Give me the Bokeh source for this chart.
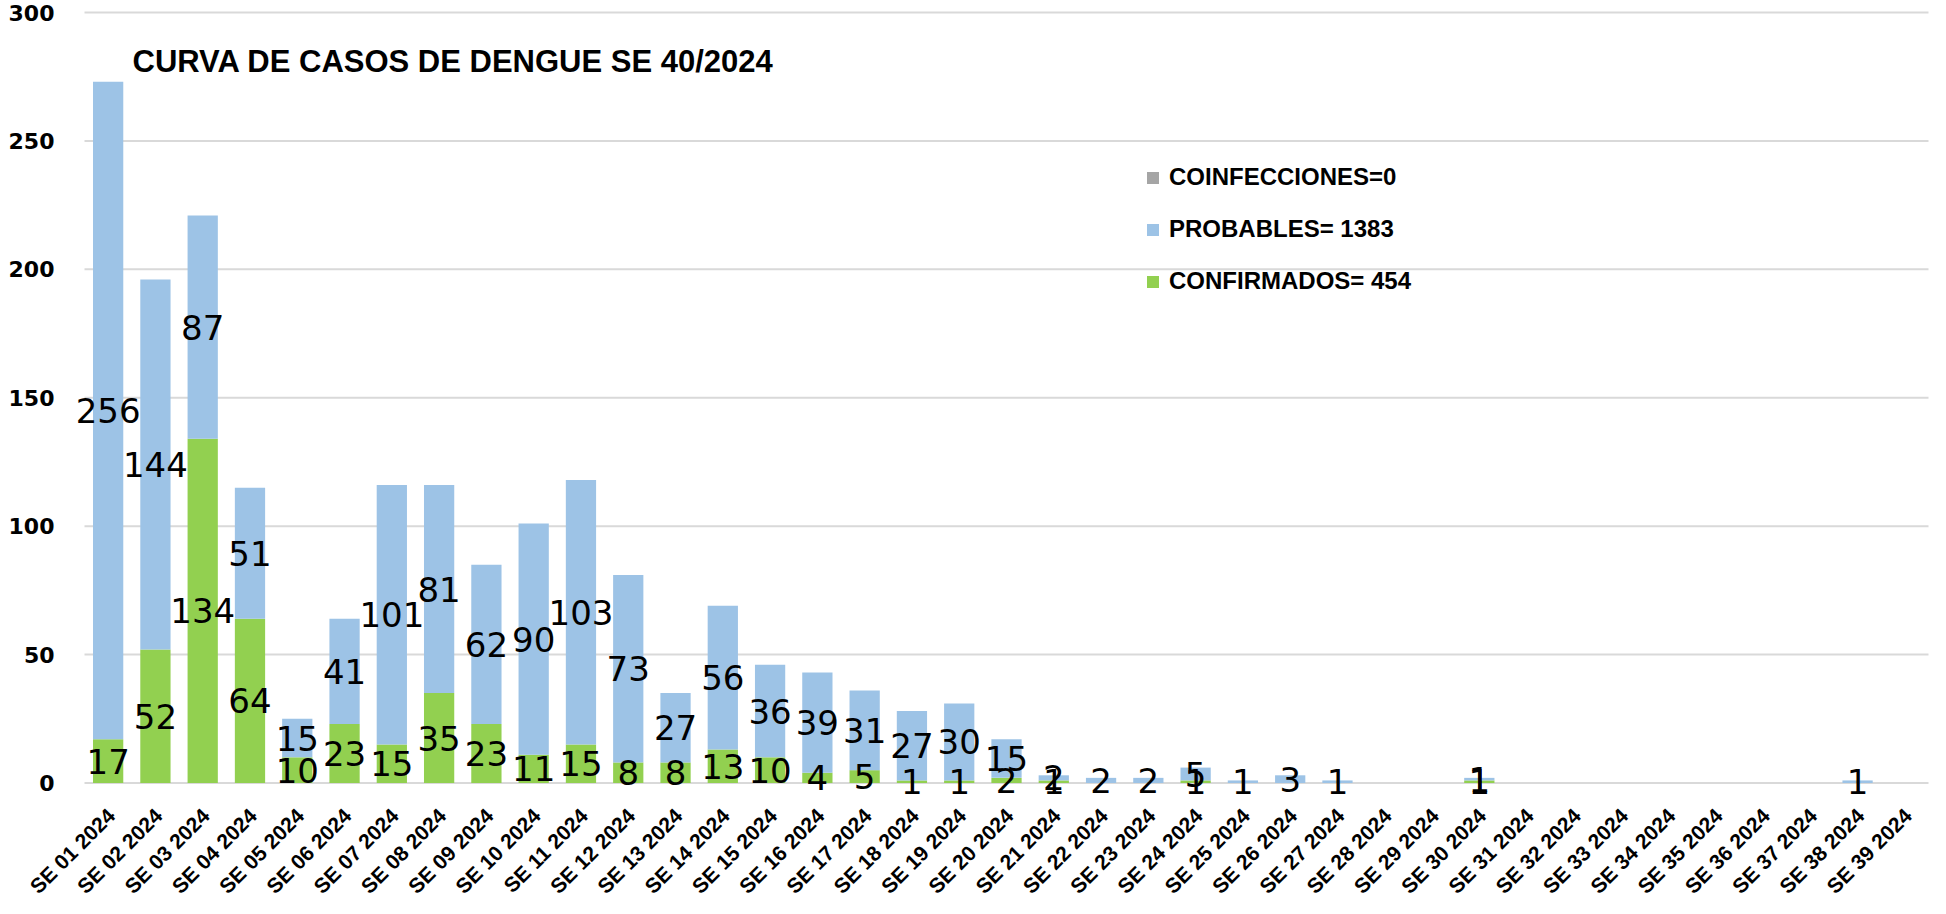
import math
from bokeh.plotting import figure
from bokeh.models import ColumnDataSource, Legend, LegendItem, Label, LabelSet, Range1d
from bokeh.core.properties import value
from bokeh.embed import file_html
from bokeh.resources import INLINE

semanas = ["SE 01 2024", "SE 02 2024", "SE 03 2024", "SE 04 2024", "SE 05 2024",
           "SE 06 2024", "SE 07 2024", "SE 08 2024", "SE 09 2024", "SE 10 2024",
           "SE 11 2024", "SE 12 2024", "SE 13 2024", "SE 14 2024", "SE 15 2024",
           "SE 16 2024", "SE 17 2024", "SE 18 2024", "SE 19 2024", "SE 20 2024",
           "SE 21 2024", "SE 22 2024", "SE 23 2024", "SE 24 2024", "SE 25 2024",
           "SE 26 2024", "SE 27 2024", "SE 28 2024", "SE 29 2024", "SE 30 2024",
           "SE 31 2024", "SE 32 2024", "SE 33 2024", "SE 34 2024", "SE 35 2024",
           "SE 36 2024", "SE 37 2024", "SE 38 2024", "SE 39 2024"]

confirmados = [17, 52, 134, 64, 10, 23, 15, 35, 23, 11, 15, 8, 8, 13, 10, 4, 5, 1, 1, 2,
               1, 0, 0, 1, 0, 0, 0, 0, 0, 1, 0, 0, 0, 0, 0, 0, 0, 0, 0]
probables = [256, 144, 87, 51, 15, 41, 101, 81, 62, 90, 103, 73, 27, 56, 36, 39, 31, 27, 30, 15,
             2, 2, 2, 5, 1, 3, 1, 0, 0, 1, 0, 0, 0, 0, 0, 0, 0, 1, 0]
coinfecciones = [0, 0, 0, 0, 0, 0, 0, 0, 0, 0, 0, 0, 0, 0, 0, 0, 0, 0, 0, 0,
                 0, 0, 0, 0, 0, 0, 0, 0, 0, 0, 0, 0, 0, 0, 0, 0, 0, 0, 0]

y_ticks = [0, 50, 100, 150, 200, 250, 300]
titulo = "CURVA DE CASOS DE DENGUE SE 40/2024"
leyenda = ["COINFECCIONES=0", "PROBABLES= 1383", "CONFIRMADOS= 454"]

VERDE = "#92D050"
AZUL = "#9DC3E6"
GRIS = "#A5A5A5"
REJILLA = "#D9D9D9"

# ---- layout (pixels of the 1930x898 canvas) ----
W, H = 1930, 898
PLOT_L, PLOT_R = 84, 1928          # where category slot 0 starts / last slot ends
Y300, Y0 = 12, 782.5               # canvas rows of value 300 and value 0
n = len(semanas)
px_x = (PLOT_R - PLOT_L) / n
px_y = (Y0 - Y300) / 300
X_MIN, X_MAX = -PLOT_L / px_x, n + (W - PLOT_R) / px_x
Y_MIN, Y_MAX = -(H - Y0) / px_y, 300 + Y300 / px_y

# category slot centres on the numeric axis (slot i spans i..i+1)
xpos = [i + 0.5 for i in range(n)]

src = ColumnDataSource(dict(x=xpos, semana=semanas, confirmados=confirmados,
                            probables=probables, coinfecciones=coinfecciones))

p = figure(x_range=Range1d(X_MIN, X_MAX), y_range=Range1d(Y_MIN, Y_MAX),
           width=W, height=H, output_backend="svg", toolbar_location=None,
           min_border=0)

# horizontal gridlines, from the first to the last category slot
gsrc = ColumnDataSource(dict(y=y_ticks, t=[str(v) for v in y_ticks]))
p.segment(x0=0, x1=n, y0="y", y1="y", source=gsrc, line_color=REJILLA, line_width=2)

rs = p.vbar_stack(["confirmados", "probables", "coinfecciones"], x="x", width=0.64,
                  color=[VERDE, AZUL, GRIS], line_color=None, source=src)

# value-axis tick labels
p.add_layout(LabelSet(x=0, y="y", text="t", source=gsrc, x_offset=-30,
                      text_align="right", text_baseline="middle",
                      text_font=value("DejaVu Sans"), text_font_style="bold",
                      text_font_size="22px", text_color="black"))

# data labels (centre of each segment), zero values omitted
lx, ly, lt = [], [], []
for xv, c, pr in zip(xpos, confirmados, probables):
    if c > 0:
        lx.append(xv); ly.append(c / 2); lt.append(str(c))
    if pr > 0:
        lx.append(xv); ly.append(c + pr / 2); lt.append(str(pr))
lsrc = ColumnDataSource(dict(x=lx, y=ly, t=lt))
p.add_layout(LabelSet(x="x", y="y", text="t", source=lsrc, text_align="center",
                      text_baseline="middle", text_font=value("DejaVu Sans"),
                      text_font_size="34px", text_color="black"))

# category labels (rotated 45 degrees)
p.add_layout(LabelSet(x="x", y=0, text="semana", source=src, angle=math.pi / 4,
                      text_align="right", text_baseline="middle", x_offset=3, y_offset=-29,
                      text_font=value("Liberation Sans"), text_font_style="bold",
                      text_font_size="21px", text_color="black"))

p.add_layout(Label(x=132, y=281, x_units="screen", y_units="data", text=titulo,
                   text_font="Liberation Sans", text_font_style="bold",
                   text_font_size="31px", text_color="black", text_baseline="alphabetic"))

legend = Legend(items=[LegendItem(label=leyenda[0], renderers=[rs[2]]),
                       LegendItem(label=leyenda[1], renderers=[rs[1]]),
                       LegendItem(label=leyenda[2], renderers=[rs[0]])],
                location=(1145, 603), orientation="vertical",
                glyph_width=15, glyph_height=15, label_standoff=9,
                label_text_font="Liberation Sans", label_text_font_style="bold",
                label_text_font_size="24px", label_text_color="black",
                spacing=24, padding=0, margin=0,
                border_line_color=None, background_fill_alpha=0)
p.add_layout(legend)

p.outline_line_color = None
p.xgrid.grid_line_color = None
p.ygrid.grid_line_color = None
p.xaxis.visible = False
p.yaxis.visible = False

open("out.html", "w").write(file_html(p, INLINE))
